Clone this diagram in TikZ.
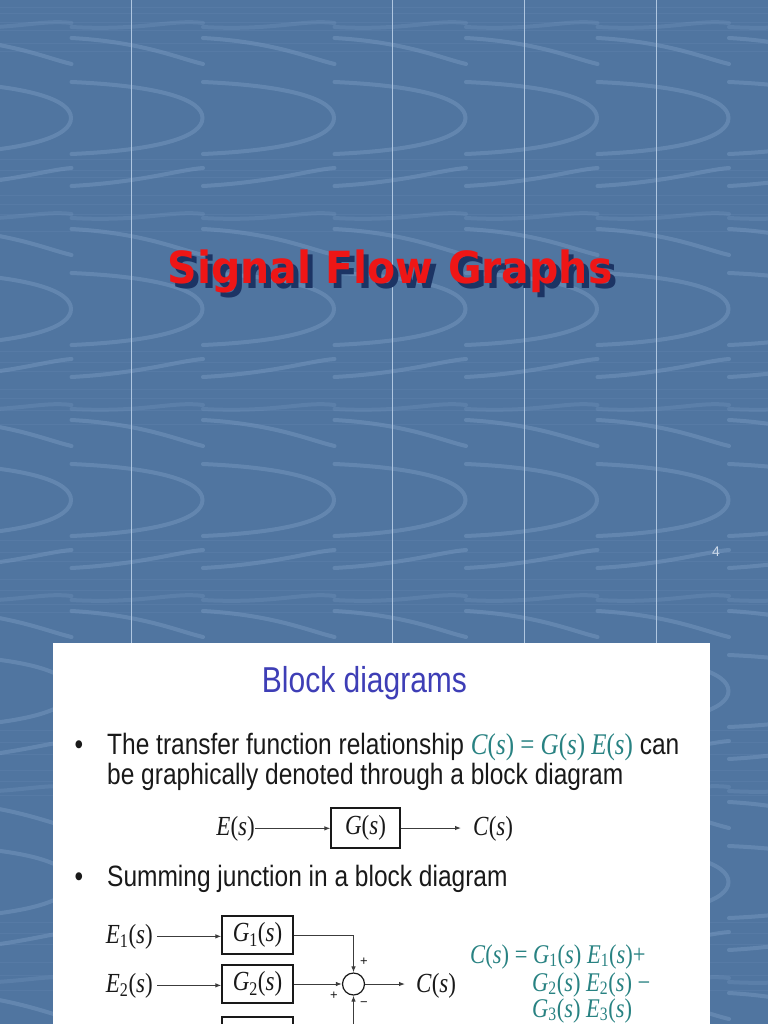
\documentclass[tikz,border=0pt]{standalone}
\usepackage{fontspec}
\setmainfont{Liberation Serif}
\newfontfamily\arialf{Liberation Sans}
\newfontfamily\titlefont{DejaVu Sans}
\usepackage{graphicx}
\usetikzlibrary{arrows.meta}
\definecolor{bgblue}{RGB}{80,117,160}
\definecolor{grainc}{RGB}{132,164,202}
\definecolor{vlinec}{RGB}{175,198,224}
\definecolor{titlered}{RGB}{238,22,22}
\definecolor{shadowblue}{RGB}{28,52,100}
\definecolor{headblue}{RGB}{62,62,182}
\definecolor{eqteal}{RGB}{40,130,130}
\definecolor{pagenumc}{RGB}{205,218,234}
\definecolor{inkc}{RGB}{25,25,25}
\newcommand{\vstretch}[1]{\scalebox{1}[1.2]{#1}}
\tikzset{
  grainline/.style={draw=grainc, line width=4pt, opacity=0.38, line cap=round},
  streak/.style={draw=grainc, line width=1pt, opacity=0.12},
  titletext/.style={font=\titlefont\bfseries\fontsize{41}{44}\selectfont, inner sep=0pt, anchor=base},
  body/.style={font=\arialf\fontsize{24.5}{28}\selectfont, text=inkc, inner sep=0pt},
  mathlbl/.style={font=\fontsize{23}{26}\selectfont, text=inkc, inner sep=0pt},
  blk/.style={draw=inkc, line width=1.3pt, minimum width=69pt, minimum height=40pt, inner sep=0pt, font=\fontsize{23}{26}\selectfont, text=inkc},
  blktwo/.style={draw=inkc, line width=1.3pt, minimum width=71pt, minimum height=38pt, inner sep=0pt, font=\fontsize{23}{26}\selectfont, text=inkc},
  sumnode/.style={draw=inkc, line width=1.2pt, circle, minimum size=22pt, inner sep=0pt},
  arr/.style={draw=inkc!85, line width=1pt, -{Latex[length=6pt,width=4.5pt]}},
  signlbl/.style={font=\arialf\fontsize{13}{13}\selectfont, text=inkc, inner sep=0pt},
  eqlbl/.style={font=\fontsize{22.5}{25}\selectfont, text=eqteal, inner sep=0pt, anchor=base west}
}
\begin{document}
\begin{tikzpicture}[x=1pt,y=-1pt]
\useasboundingbox (0,0) rectangle (768,1024);
% background
\fill[bgblue] (0,0) rectangle (768,1024);
\begin{scope}
\clip (0,0) rectangle (768,1024);
\foreach \sy in {8,14,23,31,44,52,160,171,178,196,205,215,232,351,362,371,389,398,410,424,540,552,561,579,590,604,612,730,742,754,770,781,795,922,933,944,962,975,990}{
  \draw[streak] (0,\sy) -- (768,\sy);
}
\foreach \i in {0,...,6}{
 \foreach \j in {-1,...,5}{
  \begin{scope}[shift={({71+131.5*\i},{118+191*\j})}]
   \draw[grainline] (-131,-36) .. controls (-40,-32) and (0,-18) .. (0,0) .. controls (0,18) and (-40,32) .. (-131,36);
   \draw[grainline] (-131,-80) .. controls (-60,-76) and (-25,-60) .. (0.5,-54);
   \draw[grainline] (-131,68) .. controls (-60,64) and (-25,52) .. (0.5,50);
   \draw[grainline, opacity=0.22] (-131,100) .. controls (-60,104) and (-30,92) .. (0.5,96);
  \end{scope}
 }}
\end{scope}
\foreach \vx in {131,392,524,656}{
  \draw[vlinec, line width=1pt] (\vx,0) -- (\vx,1024);
}
% title
\node[titletext, text=shadowblue] (titleshadow) at (395,288) {\scalebox{1}[1.08]{Signal Flow Graphs}};
\node[titletext, text=titlered] (title) at (390,283) {\scalebox{1}[1.08]{Signal Flow Graphs}};
\node[font=\arialf\fontsize{14}{14}\selectfont, text=pagenumc, inner sep=0pt] (pagenum) at (716,552) {4};
% slide
\fill[white] (53,643) rectangle (710,1030);
\node[body, anchor=base, text=headblue, font=\arialf\fontsize{30}{34}\selectfont] (head) at (364.5,692) {\vstretch{Block diagrams}};
\node[body, anchor=base] (bulone) at (79,754) {\vstretch{•}};
\node[body, anchor=base west] (lineone) at (107,754) {\vstretch{The transfer function relationship \textcolor{eqteal}{\rmfamily\fontsize{25}{28}\selectfont\textit{C}(\textit{s}) = \textit{G}(\textit{s}) \textit{E}(\textit{s})} can}};
\node[body, anchor=base west] (linetwo) at (107,784) {\vstretch{be graphically denoted through a block diagram}};
% first block diagram
\node[mathlbl, anchor=base east] (E) at (255,835) {\vstretch{\textit{E}(\textit{s})}};
\node[blk] (G) at (365.5,828) {\vstretch{\textit{G}(\textit{s})}};
\node[mathlbl, anchor=base west] (C) at (473,835) {\vstretch{\textit{C}(\textit{s})}};
\draw[arr] (E.east) -- (E.east -| G.west);
\draw[arr, shorten >=12pt] (G.east) -- (G.east -| C.west);
% second bullet
\node[body, anchor=base] (bultwo) at (79,886) {\vstretch{•}};
\node[body, anchor=base west] (linethree) at (107,886) {\vstretch{Summing junction in a block diagram}};
% summing junction diagram
\node[mathlbl, anchor=base east] (Eone) at (153,943) {\vstretch{\textit{E}\textsubscript{1}(\textit{s})}};
\node[mathlbl, anchor=base east] (Etwo) at (153,992) {\vstretch{\textit{E}\textsubscript{2}(\textit{s})}};
\node[blktwo] (Gone) at (257.5,935) {\vstretch{\textit{G}\textsubscript{1}(\textit{s})}};
\node[blktwo] (Gtwo) at (257.5,984) {\vstretch{\textit{G}\textsubscript{2}(\textit{s})}};
\node[blktwo] (Gthree) at (257.5,1036) {};
\node[sumnode] (sum) at (353.5,984) {};
\node[mathlbl, anchor=base west] (Ctwo) at (416,992) {\vstretch{\textit{C}(\textit{s})}};
\draw[arr, shorten <=4pt] (Eone.east) -- (Eone.east -| Gone.west);
\draw[arr, shorten <=4pt] (Etwo.east) -- (Etwo.east -| Gtwo.west);
\draw[arr] (Gone.east) -| (sum.north);
\draw[arr] (Gtwo.east) -- (sum.west);
\draw[arr] (Gthree.east) -| (sum.south);
\draw[arr, shorten >=11pt] (sum.east) -- (sum.east -| Ctwo.west);
\node[signlbl] (sgnone) at (364,962) {+};
\node[signlbl] (sgntwo) at (334,996) {+};
\node[signlbl] (sgnthree) at (364,1004) {−};
% equation
\node[eqlbl] (eqone) at (470,963) {\vstretch{\textit{C}(\textit{s}) = \textit{G}\textsubscript{1}(\textit{s}) \textit{E}\textsubscript{1}(\textit{s})+}};
\node[eqlbl] (eqtwo) at (532,991) {\vstretch{\textit{G}\textsubscript{2}(\textit{s}) \textit{E}\textsubscript{2}(\textit{s}) −}};
\node[eqlbl] (eqthree) at (532,1017) {\vstretch{\textit{G}\textsubscript{3}(\textit{s}) \textit{E}\textsubscript{3}(\textit{s})}};
\end{tikzpicture}
\end{document}
